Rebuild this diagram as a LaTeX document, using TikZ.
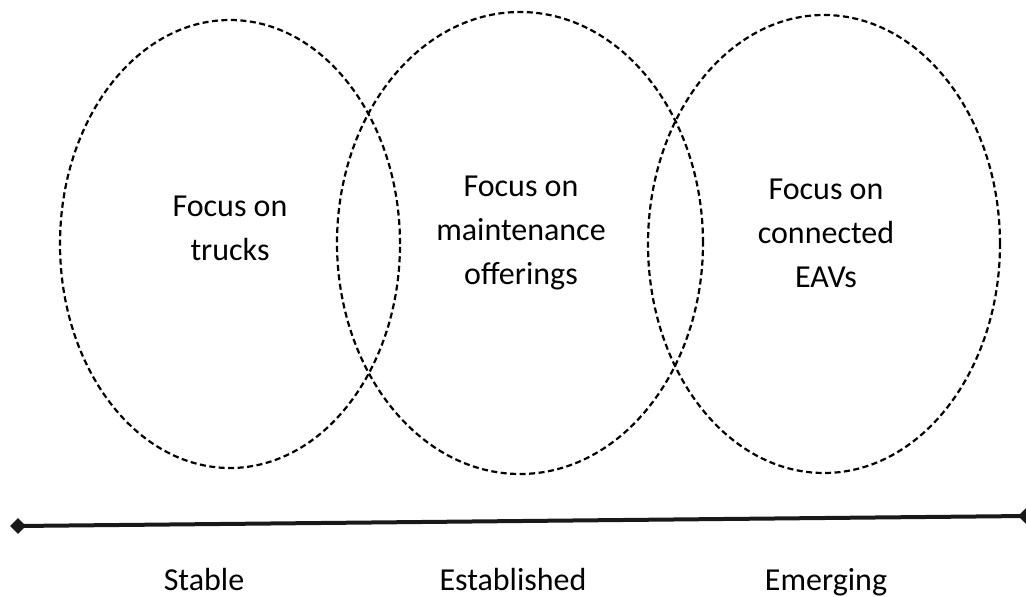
\documentclass[tikz,border=0pt]{standalone}
\usepackage{fontspec}
\setmainfont{Carlito}
\usetikzlibrary{positioning,shapes.geometric}
\tikzset{
  phase/.style={
    ellipse, draw, line width=2.2pt, dash pattern=on 6pt off 3.5pt,
    inner sep=0pt
  },
  focus/.style={
    align=center, inner sep=0pt, anchor=base,
    font=\fontsize{32}{44}\selectfont
  },
  stage/.style={
    inner sep=0pt, anchor=base, font=\fontsize{32}{44}\selectfont
  },
  axisend/.style={
    diamond, fill=black!90, inner sep=0pt, minimum size=16pt
  },
  axis/.style={line width=4pt, black!90},
}

\begin{document}
\begin{tikzpicture}[x=1pt, y=-1pt]
  \useasboundingbox (0,0) rectangle (1026,597);

  % Three overlapping phases
  \node[phase, minimum width=340pt, minimum height=448pt] (stable) at (230,244) {};
  \node[phase, minimum width=366pt, minimum height=462pt] (established) at (520,243) {};
  \node[phase, minimum width=352pt, minimum height=458pt] (emerging) at (824,244) {};

  % Focus texts (base = last line)
  \node[focus] (trucks) at (230,260) {Focus on\\trucks};
  \node[focus] (maint) at (521,284) {Focus on\\maintenance\\offerings};
  \node[focus] (eavs) at (826,287) {Focus on\\connected\\EAVs};

  % Time axis
  \node[axisend] (left) at (18,526) {};
  \coordinate (right) at (1026,516);
  \draw[axis] (left.center) -- (right);
  \node[axisend] (rightend) at (right) {};

  % Stage labels
  \node[stage] (stab) at (204,590) {Stable};
  \node[stage] (estab) at (513,590) {Established};
  \node[stage] (emerg) at (826,590) {Emerging};
\end{tikzpicture}
\end{document}
